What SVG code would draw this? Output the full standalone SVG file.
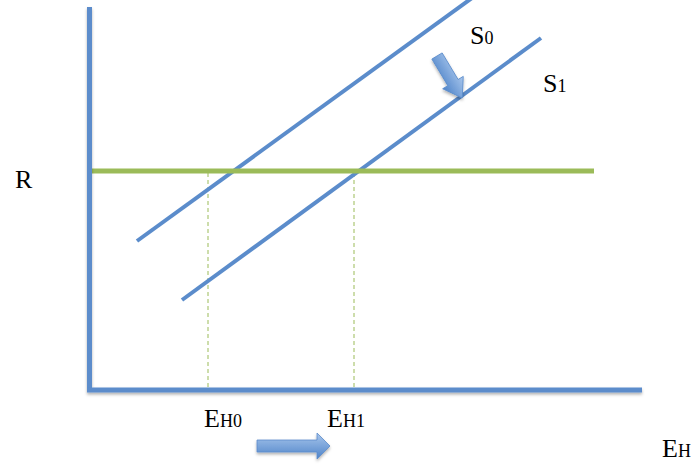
<svg xmlns="http://www.w3.org/2000/svg" width="697" height="465" viewBox="0 0 697 465">
<style>
.ax{stroke:#5b8ccb;stroke-width:5;fill:none;stroke-linecap:butt}
.sl{stroke:#5b8ccb;stroke-width:4;fill:none}
.gr{stroke:#9bbb59;stroke-width:5;fill:none}
.dash{stroke:#9bbb59;stroke-width:1;stroke-dasharray:4,3;fill:none}
text{font-family:"Liberation Serif","Times New Roman",serif;fill:#000}
.lbl{font-size:26px}
.sub{font-size:18px}
.arr{fill:url(#g);stroke:#5b8ccb;stroke-width:0.8}
</style>
<defs>
<linearGradient id="g" x1="0" y1="0" x2="0" y2="1">
<stop offset="0" stop-color="#a8c6ec"/>
<stop offset="1" stop-color="#4f84c9"/>
</linearGradient>
<filter id="sh" x="-20%" y="-20%" width="140%" height="160%">
<feDropShadow dx="0" dy="2" stdDeviation="1.5" flood-color="#000" flood-opacity="0.3"/>
</filter>
</defs>
<g id="connectors">
<line class="dash" x1="208" y1="173" x2="208" y2="388"/>
<line class="dash" x1="354" y1="173" x2="354" y2="388"/>
<line id="S0" class="sl" x1="137" y1="241" x2="472" y2="-2"/>
<line id="S1" class="sl" x1="182" y1="300" x2="541" y2="38"/>
<line id="R-line" class="gr" x1="90" y1="171" x2="594" y2="171"/>
</g>
<g id="axes" filter="url(#sh)">
<line class="ax" x1="89.5" y1="7" x2="89.5" y2="392"/>
<line class="ax" x1="87" y1="390" x2="642" y2="390"/>
</g>
<g id="shift-arrow-down" filter="url(#sh)">
<path class="arr" transform="translate(437,56) rotate(59)" d="M0,-6 L31,-6 L31,-12 L49,0 L31,12 L31,6 L0,6 Z"/>
</g>
<g id="shift-arrow-right" filter="url(#sh)">
<path class="arr" d="M257,440 L317,440 L317,433 L330,446 L317,459 L317,452 L257,452 Z"/>
</g>
<g id="labels">
<text class="lbl" x="15" y="188">R</text>
<text class="lbl" x="470" y="44">S<tspan class="sub">0</tspan></text>
<text class="lbl" x="543" y="92">S<tspan class="sub">1</tspan></text>
<text class="lbl" x="204" y="427">E<tspan class="sub">H0</tspan></text>
<text class="lbl" x="327" y="427">E<tspan class="sub">H1</tspan></text>
<text class="lbl" x="662" y="457">E<tspan class="sub">H</tspan></text>
</g>
</svg>
